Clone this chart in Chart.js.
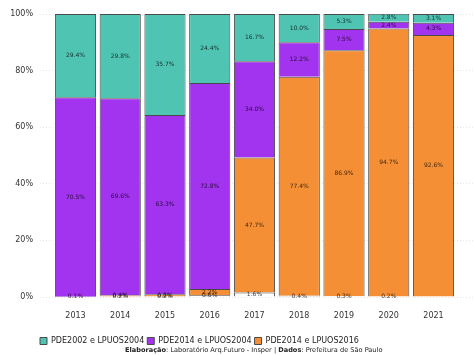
<!DOCTYPE html>
<html>
<head>
<meta charset="utf-8">
<script src="https://cdn.jsdelivr.net/npm/chart.js@4.4.1/dist/chart.umd.min.js"></script>
<style>
  html, body { margin: 0; padding: 0; background: #fff; }
  #wrap { position: relative; width: 474px; height: 355px; }
  #caption { position: absolute; left: 125px; top: 346px; font: 6.6px "DejaVu Sans", sans-serif; color: #222; white-space: nowrap; }
</style>
</head>
<body>
<div id="wrap">
  <canvas id="c" width="474" height="355"></canvas>
  <div id="caption"><b>Elaboração</b>: Laboratório Arq.Futuro - Insper | <b>Dados</b>: Prefeitura de São Paulo</div>
</div>
<script>
const years = [2013, 2014, 2015, 2016, 2017, 2018, 2019, 2020, 2021];
const seriesNames = ["PDE2002 e LPUOS2004", "PDE2014 e LPUOS2004", "PDE2014 e LPUOS2016", "Outros"];
const pde2002 = [29.4, 29.8, 35.7, 24.4, 16.7, 10.0, 5.3, 2.8, 3.1];
const pde2014lpuos2004 = [70.5, 69.6, 63.3, 72.8, 34.0, 12.2, 7.5, 2.4, 4.3];
const pde2014lpuos2016 = [0, 0.4, 0.8, 2.2, 47.7, 77.4, 86.9, 94.7, 92.6];
const outros = [0.1, 0.2, 0.2, 0.6, 1.6, 0.4, 0.3, 0.2, 0];
const yTicks = [0, 20, 40, 60, 80, 100];

const toPts = arr => years.map((y, i) => ({ x: y, y: arr[i] }));

const labelPlugin = {
  id: 'segLabels',
  afterLayout(chart) {
    if (chart.legend) { chart.legend.left -= 3; chart.legend.right -= 3; }
  },
  afterDatasetsDraw(chart) {
    const ctx = chart.ctx;
    ctx.save();
    ctx.font = '6px "DejaVu Sans", sans-serif';
    ctx.textAlign = 'center';
    ctx.textBaseline = 'middle';
    ctx.fillStyle = 'rgba(0,0,0,0.75)';
    chart.data.datasets.forEach((ds, di) => {
      const meta = chart.getDatasetMeta(di);
      meta.data.forEach((el, i) => {
        const v = ds.data[i].y;
        if (!v) return;
        const cy = (el.y + el.base) / 2;
        ctx.fillText(v.toFixed(1) + '%', el.x, cy);
      });
    });
    ctx.restore();
  }
};

const border = '#4a4a4a';
new Chart(document.getElementById('c'), {
  type: 'bar',
  data: {
    datasets: [
      { label: seriesNames[3], data: toPts(outros), backgroundColor: '#ffffff', borderColor: border, borderWidth: 1 },
      { label: seriesNames[2], data: toPts(pde2014lpuos2016), backgroundColor: '#f58f35', borderColor: border, borderWidth: 1 },
      { label: seriesNames[1], data: toPts(pde2014lpuos2004), backgroundColor: '#a233ee', borderColor: border, borderWidth: 1 },
      { label: seriesNames[0], data: toPts(pde2002), backgroundColor: '#4fc4b2', borderColor: border, borderWidth: 1 }
    ]
  },
  options: {
    responsive: false,
    animation: false,
    layout: { padding: { left: 0, top: 14, right: 0, bottom: 0 } },
    datasets: { bar: { categoryPercentage: 1, barPercentage: 0.92 } },
    scales: {
      x: {
        type: 'linear',
        stacked: true,
        offset: false,
        min: 2012.207,
        max: 2021.905,
        grid: { display: false, drawTicks: false, offset: false },
        border: { display: false },
        afterBuildTicks: axis => { axis.ticks = years.map(v => ({ value: v })); },
        afterFit: s => { s.height = 37; },
        ticks: { callback: v => String(v), font: { family: 'DejaVu Sans', size: 8 }, color: '#333', padding: 14, maxRotation: 0 }
      },
      y: {
        stacked: true,
        min: 0,
        max: 100,
        afterBuildTicks: axis => { axis.ticks = yTicks.map(v => ({ value: v })); },
        afterFit: s => { s.width = 40; },
        grid: { color: '#e6e6e6', drawTicks: false },
        border: { display: false, dash: [1, 2] },
        ticks: { callback: v => v + '%', font: { family: 'DejaVu Sans', size: 8 }, color: '#333', padding: 7 }
      }
    },
    plugins: {
      legend: {
        position: 'bottom',
        align: 'start',
        fullSize: false,
        reverse: true,
        labels: {
          filter: item => item.text !== 'Outros',
          boxWidth: 7,
          boxHeight: 7,
          padding: 3,
          font: { family: 'DejaVu Sans', size: 8 },
          color: '#222'
        }
      },
      tooltip: { enabled: false }
    }
  },
  plugins: [labelPlugin]
});
</script>
</body>
</html>
